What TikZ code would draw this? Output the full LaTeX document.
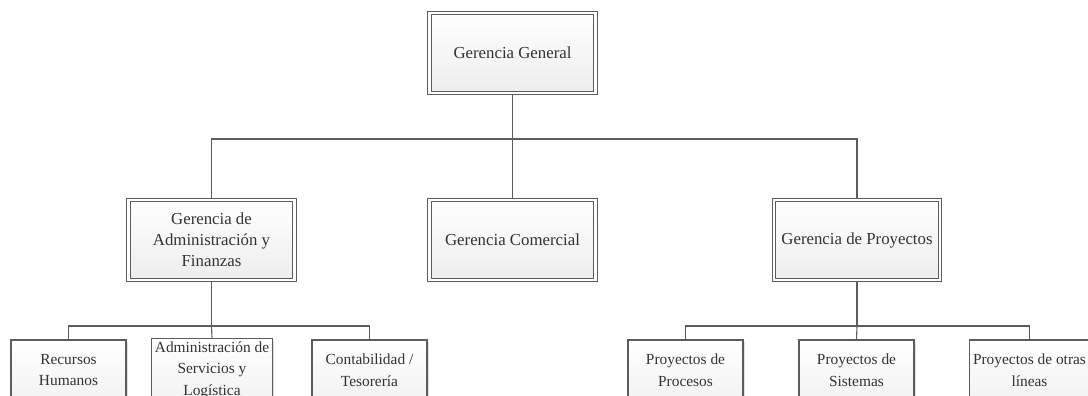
\documentclass[tikz,border=0pt]{standalone}
\usepackage{fontspec}
\setmainfont{Liberation Serif}
\usetikzlibrary{shadows}

\definecolor{linegray}{HTML}{5C5C5C}
\definecolor{textgray}{HTML}{333333}

\tikzset{
  gerbox/.style={draw=linegray, line width=1.1pt, double=white, double distance=2.6pt,
    top color=white, bottom color=black!7, outer sep=2.4pt,
    minimum width=166pt, minimum height=80pt, align=center, text=textgray,
    font=\fontsize{16.8}{21}\selectfont,
    drop shadow={shadow xshift=2pt, shadow yshift=-2pt, fill=black!12, opacity=1}},
  subbox/.style={draw=linegray, line width=1.1pt,
    top color=white, bottom color=black!5,
    minimum width=115pt, minimum height=60pt, align=center, text=textgray,
    font=\fontsize{15.4}{21.5}\selectfont,
    drop shadow={shadow xshift=2pt, shadow yshift=-2pt, fill=black!12, opacity=1}},
  conn/.style={draw=linegray, line width=1.1pt}
}

\begin{document}
\begin{tikzpicture}[x=1pt,y=-1pt]
        \clip (0,0) rectangle (1088,396);

        \node[gerbox] (gg) at (512.5,53) {Gerencia General};

        \node[gerbox] (adm) at (211.5,240) {Gerencia de\\Administración y\\Finanzas};
        \node[gerbox] (com) at (512.5,240) {Gerencia Comercial};
        \node[gerbox] (proy) at (857,240) {Gerencia de Proyectos};

        \node[subbox] (rrhh) at (68.5,370) {Recursos\\Humanos};
        \node[subbox] (serv) at (212,370) {Administración de\\Servicios y\\Logística};
        \node[subbox] (cont) at (369.5,370) {Contabilidad /\\Tesorería};

        \node[subbox] (proc) at (685.5,370) {Proyectos de\\Procesos};
        \node[subbox] (sist) at (856.5,370) {Proyectos de\\Sistemas};
        \node[subbox] (otras) at (1029.5,370) {Proyectos de otras\\líneas};

        \coordinate (j1) at (512.5,139);
        \coordinate (j2) at (211.5,326);
        \coordinate (j3) at (857,326);

        \draw[conn] (gg.south) -- (j1);
        \draw[conn] (adm.north) |- (j1) -| (proy.north);
        \draw[conn] (j1) -- (com.north);

        \draw[conn] (adm.south) -- (j2);
        \draw[conn] (rrhh.north) |- (j2) -| (cont.north);
        \draw[conn] (j2) -- (serv.north);

        \draw[conn] (proy.south) -- (j3);
        \draw[conn] (proc.north) |- (j3) -| (otras.north);
        \draw[conn] (j3) -- (sist.north);
      \end{tikzpicture}
\end{document}
